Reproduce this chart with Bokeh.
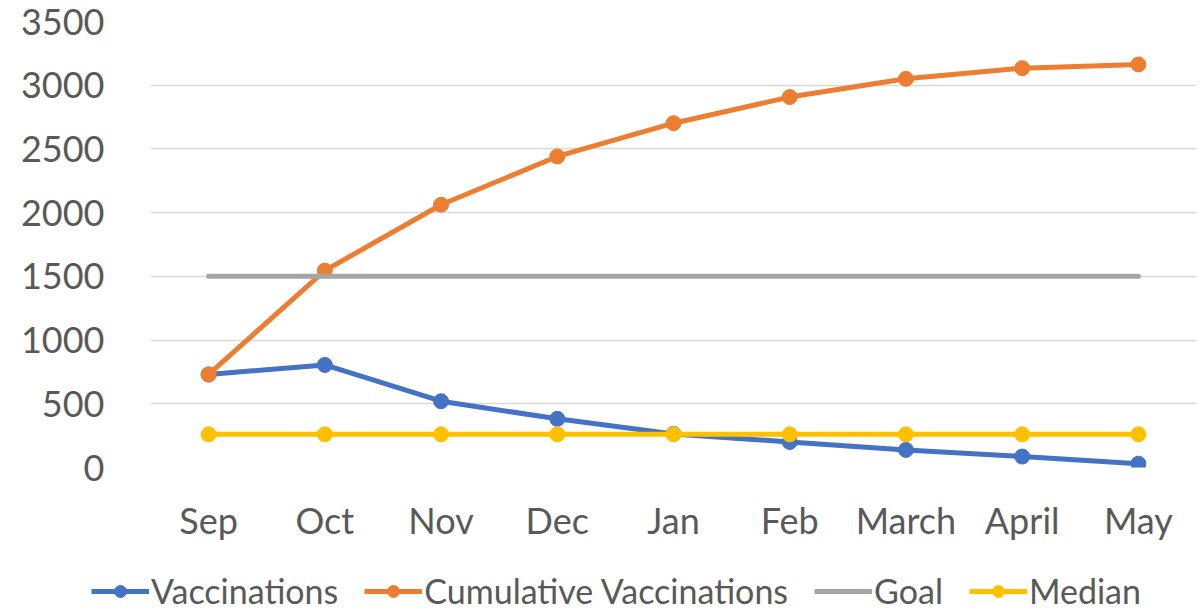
from bokeh.plotting import figure
from bokeh.layouts import column
from bokeh.models import ColumnDataSource, Legend, LegendItem, FixedTicker, Range1d, FactorRange
from bokeh.embed import file_html
from bokeh.resources import INLINE

months = ["Sep", "Oct", "Nov", "Dec", "Jan", "Feb", "March", "April", "May"]
vaccinations = [730, 805, 520, 382, 263, 200, 138, 86, 30]
cumulative = [730, 1545, 2062, 2441, 2702, 2907, 3050, 3134, 3163]
goal = [1500] * 9
median = [260] * 9
y_ticks = [0, 500, 1000, 1500, 2000, 2500, 3000, 3500]
series_names = ["Vaccinations", "Cumulative Vaccinations", "Goal", "Median"]

FONT = "Lato"
TXT = "#595959"
blue, orange, gray, yellow = "#4472C4", "#ED7D31", "#A5A5A5", "#FFC000"
lw, ms = 5, 15

src = ColumnDataSource(dict(m=months, v=vaccinations, c=cumulative, g=goal, md=median))

p = figure(x_range=FactorRange(*months, range_padding=0), y_range=Range1d(0, 3500),
           width=1196, height=558, output_backend="svg", toolbar_location=None,
           min_border_left=150, min_border_right=0, min_border_top=21, min_border_bottom=91)
p.outline_line_color = None
p.xgrid.grid_line_color = None
p.ygrid.grid_line_color = "#D9D9D9"
p.ygrid.grid_line_width = 1.5
p.yaxis.ticker = FixedTicker(ticks=y_ticks)

for ax in (p.xaxis, p.yaxis):
    ax.axis_line_color = None
    ax.major_tick_line_color = None
    ax.minor_tick_line_color = None
    ax.major_label_text_font = FONT
    ax.major_label_text_font_size = "36px"
    ax.major_label_text_color = TXT
p.yaxis.major_label_standoff = 40
p.xaxis.major_label_standoff = 24

p.line("m", "v", source=src, line_color=blue, line_width=lw, line_join="round")
p.scatter("m", "v", source=src, size=ms, fill_color=blue, line_color=blue)
p.line("m", "c", source=src, line_color=orange, line_width=lw, line_join="round")
p.scatter("m", "c", source=src, size=ms, fill_color=orange, line_color=orange)
p.line("m", "g", source=src, line_color=gray, line_width=lw, line_cap="round")
p.line("m", "md", source=src, line_color=yellow, line_width=lw)
p.scatter("m", "md", source=src, size=ms, fill_color=yellow, line_color=yellow)

# legend strip below the chart (swatch renderers hold a single NaN point, nothing visible)
lg = figure(width=1196, height=53, output_backend="svg", toolbar_location=None,
            x_range=Range1d(0, 1), y_range=Range1d(0, 1),
            x_axis_type=None, y_axis_type=None,
            min_border_left=0, min_border_right=0, min_border_top=0, min_border_bottom=0)
lg.frame_align = False
lg.outline_line_color = None
lg.xgrid.grid_line_color = None
lg.ygrid.grid_line_color = None

nan = float("nan")
items = []
for name, col, marker in zip(series_names, [blue, orange, gray, yellow], [True, True, False, True]):
    rs = [lg.line(x=[nan], y=[nan], line_color=col, line_width=lw)]
    if marker:
        rs.append(lg.scatter(x=[nan], y=[nan], size=12, fill_color=col, line_color=col))
    items.append(LegendItem(label=name, renderers=rs))

legend = Legend(items=items, orientation="horizontal", location=(91, 0))
legend.label_text_font = FONT
legend.label_text_font_size = "34px"
legend.label_text_color = TXT
legend.glyph_width = 58
legend.glyph_height = 30
legend.label_standoff = 2
legend.spacing = 26
legend.padding = 0
legend.margin = 0
legend.border_line_color = None
legend.background_fill_alpha = 0
lg.add_layout(legend)

layout = column(p, lg, spacing=0)
open("out.html", "w").write(file_html(layout, INLINE))
